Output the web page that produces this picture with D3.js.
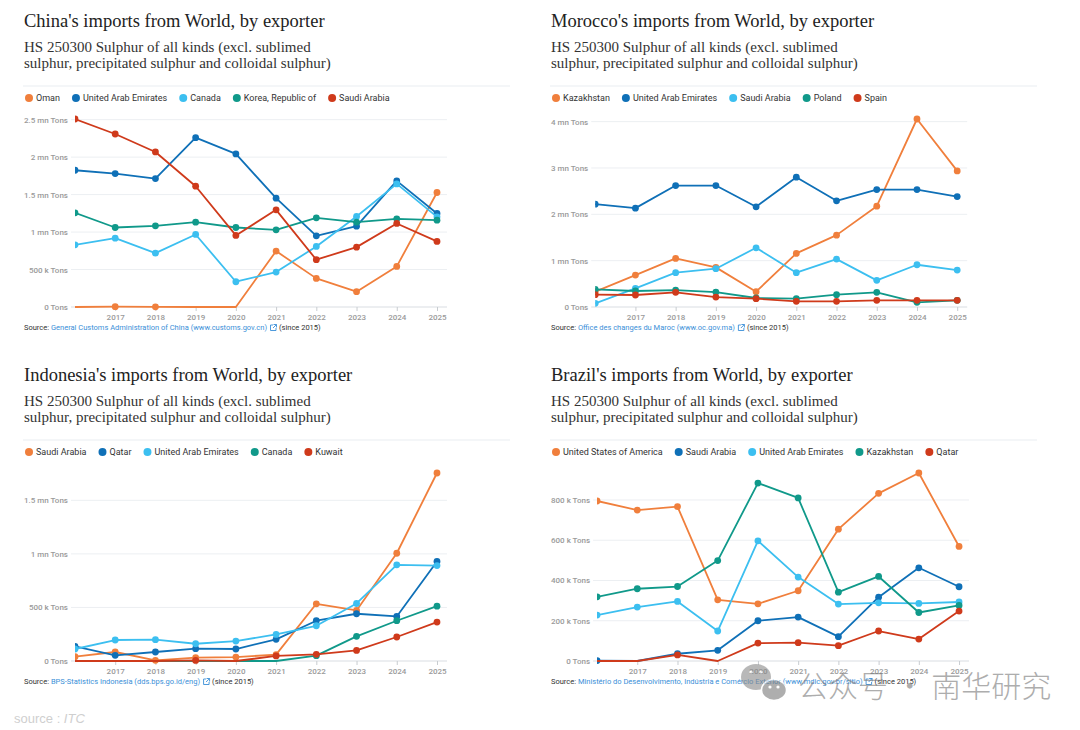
<!DOCTYPE html>
<html>
<head>
<meta charset="utf-8">
<script src="https://cdn.jsdelivr.net/npm/d3@7"></script>
<style>
  body { margin: 0; background: #fff; }
  svg { display: block; }
</style>
</head>
<body>
<svg id="chart" width="1080" height="730"></svg>
<script>
// ---- data (thousand tons) ----
const years = [2016, 2017, 2018, 2019, 2020, 2021, 2022, 2023, 2024, 2025];
const colors = ["#f07f3c", "#0f70b7", "#3cbff0", "#10998a", "#cf3a1b"];

const chinaExporters = ["Oman", "United Arab Emirates", "Canada", "Korea, Republic of", "Saudi Arabia"];
const chinaOman   = [0, 5, 3, 0, 0, 746, 382, 204, 542, 1528];
const chinaUAE    = [1825, 1781, 1714, 2260, 2043, 1452, 950, 1079, 1683, 1248];
const chinaCanada = [830, 919, 719, 968, 337, 466, 808, 1208, 1643, 1203];
const chinaKorea  = [1257, 1061, 1083, 1132, 1061, 1030, 1190, 1132, 1177, 1159];
const chinaSaudi  = [2509, 2309, 2069, 1612, 955, 1297, 631, 799, 1115, 875];
const chinaTicks = [0, 500, 1000, 1500, 2000, 2500];
const chinaTickLabels = ["0 Tons", "500 k Tons", "1 mn Tons", "1.5 mn Tons", "2 mn Tons", "2.5 mn Tons"];

const moroccoExporters = ["Kazakhstan", "United Arab Emirates", "Saudi Arabia", "Poland", "Spain"];
const moroccoKazakhstan = [330, 689, 1048, 855, 330, 1156, 1551, 2176, 4057, 2937];
const moroccoUAE        = [2219, 2133, 2621, 2621, 2162, 2801, 2291, 2535, 2535, 2384];
const moroccoSaudi      = [79, 402, 740, 826, 1278, 740, 1034, 575, 912, 797];
const moroccoPoland     = [381, 345, 366, 323, 194, 180, 266, 316, 101, 144];
const moroccoSpain      = [266, 259, 316, 215, 180, 122, 122, 144, 144, 144];
const moroccoTicks = [0, 1000, 2000, 3000, 4000];
const moroccoTickLabels = ["0 Tons", "1 mn Tons", "2 mn Tons", "3 mn Tons", "4 mn Tons"];

const indonesiaExporters = ["Saudi Arabia", "Qatar", "United Arab Emirates", "Canada", "Kuwait"];
const indonesiaSaudi  = [40, 84, 6, 31, 37, 59, 534, 472, 1006, 1755];
const indonesiaQatar  = [137, 53, 84, 115, 112, 202, 376, 441, 416, 929];
const indonesiaUAE    = [112, 196, 199, 161, 186, 248, 329, 537, 898, 891];
const indonesiaCanada = [0, 0, 0, 0, 0, 0, 50, 230, 376, 512];
const indonesiaKuwait = [0, 0, 0, 5, 0, 47, 62, 99, 224, 363];
const indonesiaTicks = [0, 500, 1000, 1500];
const indonesiaTickLabels = ["0 Tons", "500 k Tons", "1 mn Tons", "1.5 mn Tons"];

const brazilExporters = ["United States of America", "Saudi Arabia", "United Arab Emirates", "Kazakhstan", "Qatar"];
const brazilUSA   = [795, 750, 767, 304, 284, 349, 655, 833, 934, 569];
const brazilSaudi = [2, 0, 36, 53, 200, 218, 121, 317, 463, 369];
const brazilUAE   = [228, 268, 296, 149, 597, 417, 283, 289, 286, 293];
const brazilKaz   = [319, 359, 370, 499, 884, 810, 342, 420, 241, 276];
const brazilQatar = [0, 0, 30, 0, 89, 91, 76, 149, 109, 248];
const brazilTicks = [0, 200, 400, 600, 800];
const brazilTickLabels = ["0 Tons", "200 k Tons", "400 k Tons", "600 k Tons", "800 k Tons"];

const subtitle = ["HS 250300 Sulphur of all kinds (excl. sublimed", "sulphur, precipitated sulphur and colloidal sulphur)"];

const panels = [
  { dx: 0, dy: 0, title: "China's imports from World, by exporter",
    names: chinaExporters, series: [chinaOman, chinaUAE, chinaCanada, chinaKorea, chinaSaudi],
    ticks: chinaTicks, tickLabels: chinaTickLabels,
    source: "General Customs Administration of China (www.customs.gov.cn)" },
  { dx: 527, dy: 0, title: "Morocco's imports from World, by exporter",
    names: moroccoExporters, series: [moroccoKazakhstan, moroccoUAE, moroccoSaudi, moroccoPoland, moroccoSpain],
    ticks: moroccoTicks, tickLabels: moroccoTickLabels,
    source: "Office des changes du Maroc (www.oc.gov.ma)" },
  { dx: 0, dy: 354, title: "Indonesia's imports from World, by exporter",
    names: indonesiaExporters, series: [indonesiaSaudi, indonesiaQatar, indonesiaUAE, indonesiaCanada, indonesiaKuwait],
    ticks: indonesiaTicks, tickLabels: indonesiaTickLabels,
    source: "BPS-Statistics Indonesia (dds.bps.go.id/eng)" },
  { dx: 527, dy: 354, title: "Brazil's imports from World, by exporter",
    names: brazilExporters, series: [brazilUSA, brazilSaudi, brazilUAE, brazilKaz, brazilQatar],
    ticks: brazilTicks, tickLabels: brazilTickLabels,
    source: "Ministério do Desenvolvimento, Indústria e Comércio Exterior (www.mdic.gov.br/sitio)" }
];

const svg = d3.select("#chart");
const sans = "Roboto, 'Noto Sans', sans-serif";
const serif = "'Liberation Serif', 'DejaVu Serif', serif";

panels.forEach((p, pi) => {
  const g = svg.append("g").attr("transform", `translate(${p.dx},${p.dy})`);

  // Titles
  g.append("text").attr("x", 24).attr("y", 27)
    .style("font-family", serif).style("font-size", "18.5px").style("fill", "#222")
    .text(p.title);
  subtitle.forEach((s, i) => {
    g.append("text").attr("x", 24).attr("y", 52 + i * 16)
      .style("font-family", serif).style("font-size", "15px").style("fill", "#333")
      .text(s);
  });

  // Separator
  g.append("line").attr("x1", 23).attr("x2", 510).attr("y1", 86).attr("y2", 86)
    .attr("stroke", "#e9edf1").attr("stroke-width", 1);

  // Legend
  let lx = 29;
  p.names.forEach((name, i) => {
    g.append("circle").attr("cx", lx).attr("cy", 98).attr("r", 4).attr("fill", colors[i]);
    const t = g.append("text").attr("x", lx + 7).attr("y", 101)
      .style("font-family", sans).style("font-size", "9px").style("fill", "#333")
      .text(name);
    lx += 7 + t.node().getComputedTextLength() + 16;
  });

  // Y scale & labels
  const top = 119, bottom = 307;
  const maxV = d3.max(p.series, s => d3.max(s));
  const y = d3.scaleLinear().domain([0, maxV]).range([bottom, top]);

  const labels = g.append("g");
  const lt = labels.selectAll("text").data(p.ticks).join("text")
    .attr("y", d => y(d) + 3)
    .style("font-family", sans).style("font-size", "8px").style("font-weight", 500)
    .style("fill", "#9a9a9a")
    .attr("text-anchor", "end")
    .text((d, i) => p.tickLabels[i]);
  const maxW = d3.max(lt.nodes(), n => n.getComputedTextLength());
  const labelRight = 24 + maxW;
  lt.attr("x", labelRight);
  const left = labelRight + 7;

  const x = d3.scaleLinear().domain([years[0], years[years.length - 1]]).range([left, left + 362]);
  const right = x(years[years.length - 1]) + 10;

  // Grid
  g.append("g").selectAll("line").data(p.ticks).join("line")
    .attr("x1", left - 4).attr("x2", right)
    .attr("y1", d => y(d)).attr("y2", d => y(d))
    .attr("stroke", d => d === 0 ? "#d9dde2" : "#eceff2").attr("stroke-width", 1);

  // X axis ticks and labels
  const xa = g.append("g").attr("transform", `translate(0,${bottom})`)
    .call(d3.axisBottom(x).tickValues(years.slice(1)).tickFormat(d3.format("d")).tickSize(4).tickPadding(3));
  xa.select(".domain").remove();
  xa.selectAll(".tick line").attr("stroke", "#c8ccd0");
  xa.selectAll(".tick text").style("font-family", sans).style("font-size", "8px")
    .style("font-weight", 500).style("fill", "#9a9a9a");

  // Clip at the left edge of the plot
  const clipId = "clip" + pi;
  g.append("clipPath").attr("id", clipId).append("rect")
    .attr("x", left).attr("y", top - 20).attr("width", right - left + 20).attr("height", bottom - top + 40);

  const plot = g.append("g").attr("clip-path", `url(#${clipId})`);
  const line = d3.line().x((d, i) => x(years[i])).y(d => y(d));

  p.series.forEach((s, si) => {
    plot.append("path").datum(s).attr("d", line)
      .attr("fill", "none").attr("stroke", colors[si]).attr("stroke-width", 1.8)
      .attr("stroke-linejoin", "round");
    plot.append("g").selectAll("circle")
      .data(s.map((v, i) => ({ v, i })).filter(d => d.v > 0))
      .join("circle")
      .attr("cx", d => x(years[d.i])).attr("cy", d => y(d.v)).attr("r", 3.4)
      .attr("fill", colors[si]);
  });

  // Source line
  const src = g.append("text").attr("x", 24).attr("y", 330)
    .style("font-family", sans).style("font-size", "7.5px");
  src.append("tspan").style("fill", "#333").text("Source: ");
  src.append("tspan").style("fill", "#3a8fd8").text(p.source);
  const srcEnd = 24 + src.node().getComputedTextLength();
  const ic = g.append("g").attr("transform", `translate(${srcEnd + 3},${324})`)
    .attr("fill", "none").attr("stroke", "#3a8fd8").attr("stroke-width", 0.9);
  ic.append("path").attr("d", "M3,1 H0.5 V6.5 H6 V4");
  ic.append("path").attr("d", "M3.5,0.5 H6.5 V3.5 M6.5,0.5 L3,4");
  g.append("text").attr("x", srcEnd + 12).attr("y", 330)
    .style("font-family", sans).style("font-size", "7.5px").style("fill", "#333")
    .text("(since 2015)");
});

// Footer
const foot = svg.append("text").attr("x", 14).attr("y", 723)
  .style("font-family", "'Liberation Sans', Arial, sans-serif").style("font-size", "13px").style("fill", "#cfcfcf");
foot.append("tspan").text("source : ");
foot.append("tspan").style("font-style", "italic").text("ITC");

// Watermark
const wm = svg.append("g").attr("opacity", 0.6);
wm.append("ellipse").attr("cx", 756).attr("cy", 677).attr("rx", 15).attr("ry", 13).attr("fill", "#8a8a8a");
wm.append("ellipse").attr("cx", 774).attr("cy", 690).attr("rx", 12.5).attr("ry", 10.5).attr("fill", "#7a7a7a")
  .attr("stroke", "#fff").attr("stroke-width", 1.5);
[[751, 672], [761, 672], [770, 687], [778, 687]].forEach(([cx, cy]) =>
  wm.append("circle").attr("cx", cx).attr("cy", cy).attr("r", 1.6).attr("fill", "#fff"));
wm.append("text").attr("x", 798).attr("y", 697)
  .style("font-family", "'Noto Sans CJK SC', sans-serif").style("font-size", "30px")
  .style("font-weight", 300).style("fill", "#777")
  .text("公众号 · 南华研究");
</script>
</body>
</html>
